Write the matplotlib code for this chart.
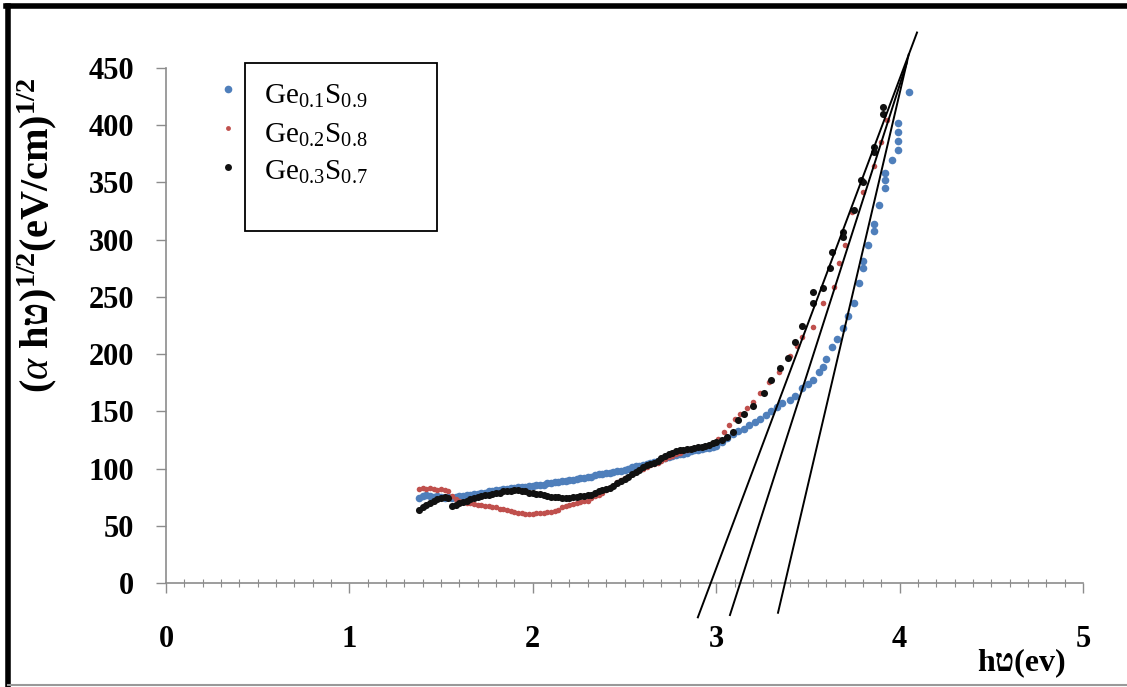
import matplotlib
matplotlib.use("Agg")
import matplotlib.pyplot as plt
from matplotlib.lines import Line2D
from matplotlib.patches import Rectangle

plt.rcParams['font.family'] = ['Liberation Serif', 'DejaVu Sans']
plt.rcParams['mathtext.fontset'] = 'custom'
plt.rcParams['mathtext.rm'] = 'Liberation Serif'
plt.rcParams['mathtext.it'] = 'Liberation Serif:italic'
plt.rcParams['mathtext.bf'] = 'Liberation Serif:bold'

labels = ["Ge$_{0.1}$S$_{0.9}$", "Ge$_{0.2}$S$_{0.8}$", "Ge$_{0.3}$S$_{0.7}$"]
colors = ['#4f7fbb', '#c0504d', '#111111']

# Ge0.1S0.9
x1 = [1.38, 1.40, 1.42, 1.44, 1.46, 1.48, 1.50, 1.52, 1.54, 1.56, 1.58, 1.60, 1.62, 1.64, 1.66, 1.68,
      1.70, 1.72, 1.74, 1.76, 1.78, 1.80, 1.82, 1.84, 1.86, 1.88, 1.90, 1.92, 1.94, 1.96, 1.98, 2.00,
      2.02, 2.04, 2.06, 2.08, 2.10, 2.12, 2.14, 2.16, 2.18, 2.20, 2.22, 2.24, 2.26, 2.28, 2.30, 2.32,
      2.34, 2.36, 2.38, 2.40, 2.42, 2.44, 2.46, 2.48, 2.50, 2.52, 2.54, 2.56, 2.58, 2.60, 2.62, 2.64,
      2.66, 2.68, 2.70, 2.72, 2.74, 2.76, 2.78, 2.80, 2.82, 2.84, 2.86, 2.88, 2.90, 2.92, 2.94, 2.96,
      2.98, 3.00, 3.03, 3.06, 3.09, 3.12, 3.15, 3.18, 3.21, 3.24, 3.27, 3.30, 3.33, 3.36, 3.40, 3.43,
      3.47, 3.50, 3.53, 3.56, 3.58, 3.60, 3.63, 3.66, 3.69, 3.72, 3.75, 3.78, 3.80, 3.80, 3.83, 3.86,
      3.86, 3.89, 3.92, 3.92, 3.92, 3.96, 3.99, 3.99, 3.99, 3.99, 4.05]
y1 = [74, 76, 77, 76, 75, 76, 75, 74, 75, 74, 75, 76, 76, 77, 77, 78,
      78, 79, 79, 80, 80, 81, 81, 82, 82, 83, 83, 84, 84, 84, 85, 85,
      86, 86, 86, 87, 87, 88, 88, 89, 89, 90, 90, 91, 92, 92, 93, 93,
      94, 95, 95, 96, 96, 97, 98, 98, 99, 100, 101, 102, 102, 103, 104, 105,
      106, 107, 108, 109, 110, 111, 112, 113, 113, 114, 115, 116, 116, 117, 118, 118,
      119, 120, 123, 127, 130, 133, 135, 138, 141, 143, 147, 150, 154, 157, 160, 163,
      170, 174, 177, 184, 189, 196, 206, 213, 223, 233, 245, 262, 275, 281, 295, 308,
      314, 330, 345, 352, 358, 370, 378, 386, 394, 402, 429]

# Ge0.2S0.8
x2 = [1.38, 1.40, 1.42, 1.44, 1.46, 1.48, 1.50, 1.52, 1.54, 1.56, 1.58, 1.60, 1.62, 1.64, 1.66, 1.68,
      1.70, 1.72, 1.74, 1.76, 1.78, 1.80, 1.82, 1.84, 1.86, 1.88, 1.90, 1.92, 1.94, 1.96, 1.98, 2.00,
      2.02, 2.04, 2.06, 2.08, 2.10, 2.12, 2.14, 2.16, 2.18, 2.20, 2.22, 2.24, 2.26, 2.28, 2.30, 2.32,
      2.34, 2.36, 2.38, 2.40, 2.42, 2.44, 2.46, 2.48, 2.50, 2.52, 2.54, 2.56, 2.58, 2.60, 2.62, 2.64,
      2.66, 2.68, 2.70, 2.72, 2.74, 2.76, 2.78, 2.80, 2.82, 2.84, 2.86, 2.88, 2.90, 2.92, 2.94, 2.96,
      2.98, 3.01, 3.04, 3.07, 3.10, 3.13, 3.17, 3.20, 3.24, 3.29, 3.34, 3.40, 3.44, 3.47, 3.53, 3.58,
      3.64, 3.67, 3.70, 3.74, 3.80, 3.86, 3.90, 3.93]
y2 = [82, 83, 82, 83, 82, 81, 82, 81, 80, 76, 73, 72, 71, 70, 70, 69,
      68, 68, 67, 67, 66, 66, 65, 65, 64, 63, 62, 61, 61, 60, 60, 60,
      61, 61, 61, 62, 62, 63, 64, 66, 67, 68, 69, 70, 71, 72, 72, 74,
      76, 77, 79, 81, 83, 85, 88, 90, 92, 93, 95, 97, 99, 100, 101, 103,
      104, 105, 107, 108, 110, 111, 113, 114, 115, 116, 117, 118, 119, 119, 120, 121,
      122, 126, 132, 138, 143, 148, 153, 158, 166, 176, 184, 198, 207, 215, 224, 245,
      259, 280, 295, 324, 342, 364, 385, 405]

# Ge0.3S0.7
x3 = [1.38, 1.40, 1.42, 1.44, 1.46, 1.48, 1.50, 1.52, 1.54, 1.56, 1.58, 1.60, 1.62, 1.64, 1.66, 1.68,
      1.70, 1.72, 1.74, 1.76, 1.78, 1.80, 1.82, 1.84, 1.86, 1.88, 1.90, 1.92, 1.94, 1.96, 1.98, 2.00,
      2.02, 2.04, 2.06, 2.08, 2.10, 2.12, 2.14, 2.16, 2.18, 2.20, 2.22, 2.24, 2.26, 2.28, 2.30, 2.32,
      2.34, 2.36, 2.38, 2.40, 2.42, 2.44, 2.46, 2.48, 2.50, 2.52, 2.54, 2.56, 2.58, 2.60, 2.62, 2.64,
      2.66, 2.68, 2.70, 2.72, 2.74, 2.76, 2.78, 2.80, 2.82, 2.84, 2.86, 2.88, 2.90, 2.92, 2.94, 2.96,
      2.98, 3.00, 3.03, 3.06, 3.09, 3.12, 3.15, 3.20, 3.26, 3.30, 3.35, 3.39, 3.43, 3.47, 3.53, 3.53,
      3.58, 3.62, 3.63, 3.69, 3.69, 3.75, 3.79, 3.80, 3.86, 3.86, 3.91, 3.91]
y3 = [64, 66, 68, 70, 72, 73, 74, 75, 74, 67, 68, 70, 71, 72, 73, 74,
      75, 76, 77, 77, 78, 79, 79, 80, 80, 80, 81, 81, 80, 80, 79, 79,
      78, 78, 77, 76, 75, 75, 75, 74, 74, 74, 75, 75, 76, 76, 77, 77,
      79, 80, 81, 82, 83, 85, 87, 89, 91, 93, 95, 97, 99, 101, 103, 104,
      105, 107, 109, 111, 113, 114, 115, 116, 116, 117, 117, 118, 119, 119, 120, 121,
      122, 123, 125, 128, 132, 142, 148, 155, 166, 177, 188, 197, 211, 225, 245, 254,
      258, 275, 289, 302, 307, 326, 352, 350, 377, 381, 410, 416]

# tangent lines: (x_start, y_start, x_end, y_end)
fit_lines = [(2.90, -30, 4.095, 481),
             (3.075, -28, 4.04, 455),
             (3.337, -26, 4.05, 462)]

xticks = [0, 1, 2, 3, 4, 5]
yticks = [0, 50, 100, 150, 200, 250, 300, 350, 400, 450]

W, H = 1127, 687
fig = plt.figure(figsize=(W / 100, H / 100), dpi=100)
ax = fig.add_axes([166 / W, 1 - 583 / H, (1083 - 166) / W, (583 - 68) / H])

ax.scatter(x1, y1, s=30, color=colors[0], zorder=3, linewidths=0)
ax.scatter(x2, y2, s=16, color=colors[1], zorder=3, linewidths=0)
ax.scatter(x3, y3, s=26, color=colors[2], zorder=3, linewidths=0)

for xa, ya, xb, yb in fit_lines:
    ax.plot([xa, xb], [ya, yb], color='black', lw=1.4, clip_on=False, zorder=4)

ax.set_xlim(0, 5)
ax.set_ylim(0, 450)
ax.set_xticks(xticks)
ax.set_yticks(yticks)
ax.set_xticks([i / 10 for i in range(51)], minor=True)
ax.set_xticklabels([str(t) for t in xticks], fontsize=22, fontweight='bold')
ax.set_yticklabels([str(t) for t in yticks], fontsize=22, fontweight='bold')

for s in ['top', 'right']:
    ax.spines[s].set_visible(False)
for s in ['left', 'bottom']:
    ax.spines[s].set_color('#8c8c8c')
    ax.spines[s].set_linewidth(1.2)

ax.tick_params(axis='y', which='major', direction='out', length=7, width=1, color='#8c8c8c', pad=16)
ax.tick_params(axis='x', which='major', direction='out', length=7, width=1, color='#8c8c8c', pad=23)
ax.tick_params(axis='x', which='minor', direction='inout', length=6, width=0.8, color='#8c8c8c')

# y label and x label
fig.text(37 / W, 1 - 235 / H, r"($\mathit{\alpha}$ hט)$^{\mathbf{1/2}}$(eV/cm)$^{\mathbf{1/2}}$",
         rotation=90, ha='center', va='center', fontsize=29, fontweight='bold')
fig.text(1022 / W, 1 - 663 / H, "hט(ev)", ha='center', va='center', fontsize=23, fontweight='bold')

# legend
fig.add_artist(Rectangle((245 / W, 1 - 231 / H), (437 - 245) / W, (231 - 63) / H,
                         transform=fig.transFigure, fill=False, ec='black', lw=1.3))
leg_y = [89, 128, 167]
leg_base = [104, 143, 180]
leg_size = [5.5, 3.5, 5]
for i in range(3):
    fig.add_artist(Line2D([228 / W], [1 - leg_y[i] / H], marker='o', ms=leg_size[i],
                          color=colors[i], mew=0, transform=fig.transFigure))
    fig.text(264 / W, 1 - leg_base[i] / H, labels[i], ha='left', va='baseline', fontsize=21)

# frame around the picture
fig.add_artist(Line2D([6 / W, 1], [1 - 6 / H, 1 - 6 / H], color='black', lw=4, transform=fig.transFigure))
fig.add_artist(Line2D([8 / W, 8 / W], [1 - 6 / H, 0], color='black', lw=4, transform=fig.transFigure))
fig.add_artist(Line2D([8 / W, 1], [2 / H, 2 / H], color='#999999', lw=1.5, transform=fig.transFigure))

fig.savefig("out.png", dpi=100)
